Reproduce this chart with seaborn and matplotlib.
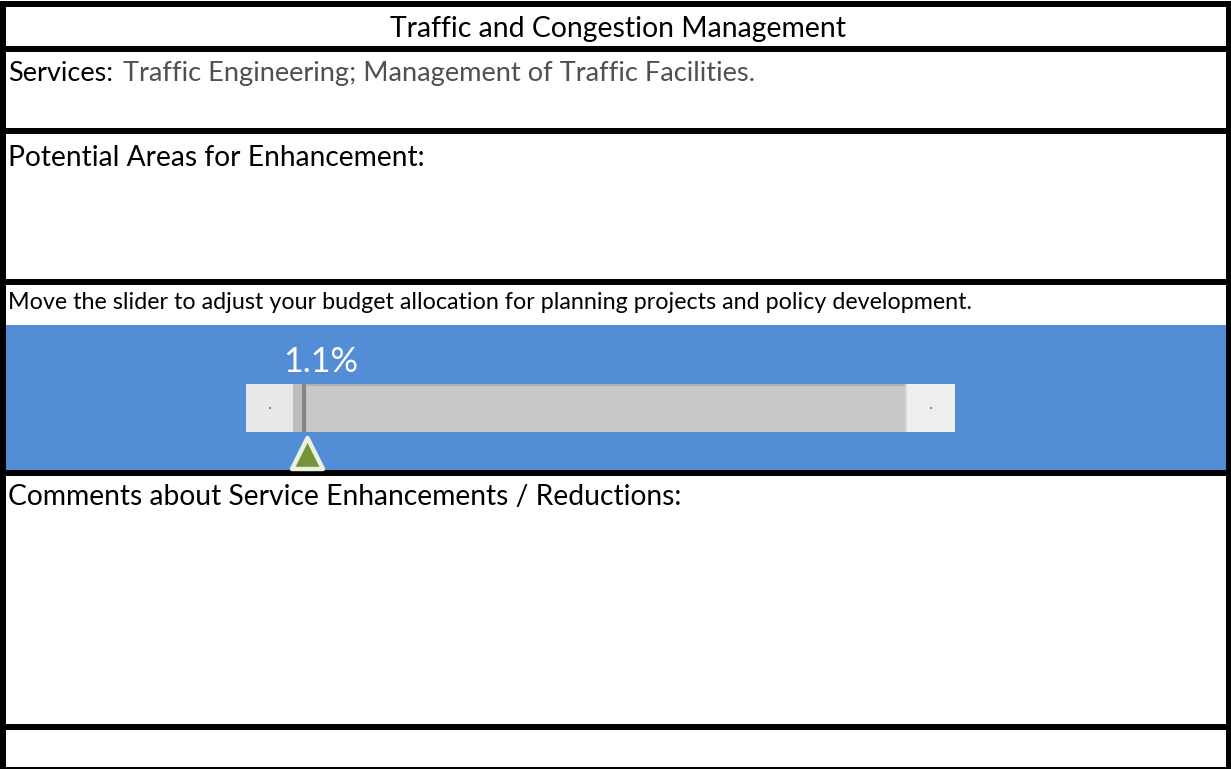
import matplotlib
matplotlib.use("Agg")
import matplotlib.pyplot as plt
import matplotlib.transforms as mtransforms
import seaborn as sns
import pandas as pd
from matplotlib.patches import Rectangle

# ---- content / data ----
title = "Traffic and Congestion Management"
services_label = "Services:"
services_text = "Traffic Engineering; Management of Traffic Facilities."
enhance_label = "Potential Areas for Enhancement:"
slider_prompt = "Move the slider to adjust your budget allocation for planning projects and policy development."
comments_label = "Comments about Service Enhancements / Reductions:"
slider_value = [1.1]          # percent
slider_range = [0, 50]        # slider min / max (percent)

sns.set_theme(style="white")
plt.rcParams['font.family'] = ['Lato', 'DejaVu Sans']

W, H = 1231, 769
fig = plt.figure(figsize=(W / 100, H / 100), dpi=100)
fig.patch.set_facecolor('white')
bg = fig.add_axes([0, 0, 1, 1])
bg.set_xlim(0, W)
bg.set_ylim(H, 0)
bg.axis('off')

# blue slider band
bg.add_patch(Rectangle((6, 325), 1221, 146, color='#538DD5', lw=0, zorder=1))
# thick row separators
for y0, y1 in [(1, 7), (46, 52), (128, 134), (279, 285), (470, 476), (724, 730)]:
    bg.add_patch(Rectangle((0, y0), W, y1 - y0, color='black', lw=0, zorder=3))
# side borders and bottom
bg.add_patch(Rectangle((0, 1), 6, H, color='black', lw=0, zorder=3))
bg.add_patch(Rectangle((1226, 1), 5, H, color='black', lw=0, zorder=3))
bg.add_patch(Rectangle((0, 767), W, 2, color='black', lw=0, zorder=3))

# slider scroll bar: buttons and track
TL, TR, TT, TB = 293, 907, 384, 432
bg.add_patch(Rectangle((246, TT), TL - 246, TB - TT, color='#E8E8E8', lw=0, zorder=2))
bg.add_patch(Rectangle((TR, TT), 955 - TR, TB - TT, color='#EEEEEE', lw=0, zorder=2))
bg.add_patch(Rectangle((TL, TT), TR - TL, TB - TT, color='#C8C8C8', lw=0, zorder=2))
bg.add_patch(Rectangle((TL, TT), TR - TL, 1.5, color='#B0B0B0', lw=0, zorder=2))
bg.add_patch(Rectangle((TR - 2, TT), 2, TB - TT, color='#D8D8D8', lw=0, zorder=2))
bg.add_patch(Rectangle((269, 407), 2, 2, color='#888888', lw=0, zorder=2))
bg.add_patch(Rectangle((930, 407), 2, 2, color='#888888', lw=0, zorder=2))

renderer = fig.canvas.get_renderer()


def fit_text(x, y, s, target_w, ha='left', **kw):
    t = bg.text(x, y, s, va='baseline', ha=ha, zorder=4, **kw)
    w = t.get_window_extent(renderer).width
    t.set_fontsize(t.get_fontsize() * target_w / w)
    return t


fit_text(617.5, 37, title, 455, ha='center', color='black')
fit_text(8, 81, services_label, 105, color='black')
fit_text(123, 81, services_text, 631, color='#505050')
fit_text(8, 166, enhance_label, 414, color='black')
fit_text(8, 309, slider_prompt, 962, color='black')
fit_text(8, 505, comments_label, 672, color='black')

# slider axes: x in data units of the slider, y in pixel rows
sl = fig.add_axes([TL / W, (H - 471) / H, (TR - TL) / W, (471 - 325) / H])
sl.set_xlim(*slider_range)
sl.set_ylim(471, 325)
sl.axis('off')
sl.patch.set_alpha(0)

v = slider_value[0]
sl.axvspan(slider_range[0], v, ymin=(471 - TB) / 146, ymax=(471 - TT) / 146,
           color='#BDBDBD', lw=0, zorder=2)
shifted = mtransforms.offset_copy(sl.transData, fig=fig, x=-2.5, y=0, units='dots')
sl.vlines([v], TT, TB, colors='#858585', lw=4 * 0.72, zorder=3, transform=shifted)

df = pd.DataFrame({'value': slider_value, 'row': [453]})
sns.scatterplot(data=df, x='value', y='row', marker='^', s=(31 * 0.72) ** 2,
                color='#76923C', edgecolor='#EBF1DE', linewidth=3.2, ax=sl,
                zorder=5, legend=False, clip_on=False)
sl.set_xlabel('')
sl.set_ylabel('')

# value label above the thumb
px = sl.transData.transform((v, 0))[0]
lab = bg.text(px + 14, 372, f"{v:.1f}%", ha='center', va='baseline',
              color='white', zorder=4)
w = lab.get_window_extent(renderer).width
lab.set_fontsize(lab.get_fontsize() * 75 / w)

fig.savefig('out.png', dpi=100, facecolor='white')
